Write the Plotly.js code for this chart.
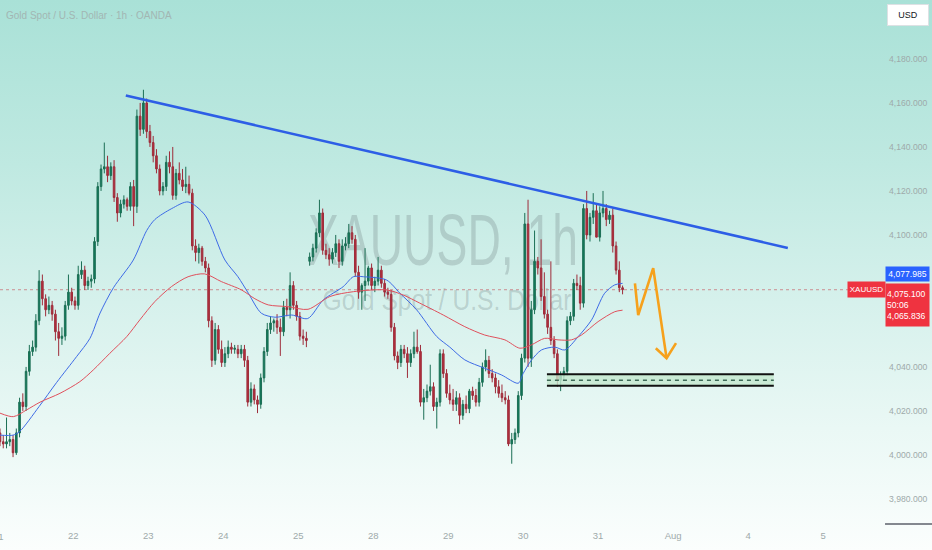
<!DOCTYPE html>
<html>
<head>
<meta charset="utf-8">
<script src="https://cdn.plot.ly/plotly-3.0.1.min.js"></script>
<style>
  body { margin: 0; }
  #wrap {
    position: relative; width: 932px; height: 550px; overflow: hidden;
    background: linear-gradient(to bottom, #a9e1d7 0%, #bfe9e1 30%, #d6f1ec 55%, #eaf8f5 78%, #fbfefd 100%);
  }
  .wm {
    position: absolute; left: 0; width: 886px; text-align: center;
    font-family: 'Liberation Sans', Arial, sans-serif;
    color: rgba(90, 105, 110, 0.24); white-space: nowrap;
  }
  #chart { position: absolute; left: 0; top: 0; width: 932px; height: 550px; }
</style>
</head>
<body>
<div id="wrap">
  <div class="wm" style="top:203px;font-size:73px;line-height:73px;transform:scaleX(0.634);">XAUUSD, 1h</div>
  <div class="wm" style="top:285px;font-size:30px;line-height:30px;left:4px;transform:scaleX(0.82);">Gold Spot / U.S. Dollar</div>
  <div id="chart"></div>
</div>
<script>
TESTER = document.getElementById('chart');

// hourly candles (23 per trading day)
var candleOpen = [
 4010,4006,4005,4006,4007,4001,4010,4024,4022,4038,4047,4049,4061,4079,4071,4066,4068,4064,4056,4053,4054,4068,4074,
 4070,4068,4082,4084,4077,4079,4080,4097,4122,4130,4131,4127,4131,4117,4110,4114,4116,4113,4122,4113,4154,4148,4160,
 4147,4142,4136,4130,4120,4122,4133,4131,4118,4128,4125,4122,4123,4119,4095,4092,4094,4088,4085,4061,4043,4057,4048,
 4042,4046,4049,4048,4048,4046,4048,4043,4024,4030,4025,4023,4035,4047,4057,4060,4061,4058,4056,4067,4066,4077,4068,
 4063,4054,4053,4088,4090,4094,4101,4110,4093,4091,4089,4092,4096,4088,4095,4096,4101,4098,4083,4074,4077,4079,4085,
 4077,4079,4084,4078,4074,4073,4058,4045,4042,4048,4046,4042,4046,4049,4047,4024,4026,4029,4031,4022,4024,4046,4037,
 4028,4025,4023,4026,4018,4023,4021,4029,4027,4024,4033,4040,4043,4037,4035,4031,4028,4026,4025,4005,4007,4010,4027,
 4044,4105,4044,4066,4088,4085,4072,4064,4058,4052,4046,4034,4036,4038,4061,4063,4078,4077,4069,4112,4100,4108,4111,
 4099,4110,4112,4107,4109,4095,4084,4076
];
var candleHigh = [
 4012,4009,4017,4010,4009,4012,4026,4028,4040,4050,4052,4064,4084,4082,4073,4072,4070,4066,4060,4058,4070,4082,4076,
 4072,4086,4088,4086,4081,4082,4099,4124,4132,4142,4136,4133,4134,4119,4116,4118,4117,4124,4125,4157,4160,4166,4162,
 4150,4145,4139,4132,4124,4136,4138,4140,4130,4133,4130,4131,4127,4121,4098,4096,4095,4090,4087,4063,4060,4059,4052,
 4049,4052,4051,4050,4050,4050,4050,4045,4033,4032,4027,4037,4049,4060,4063,4062,4064,4062,4070,4071,4083,4079,4070,
 4065,4057,4056,4092,4096,4103,4116,4112,4096,4094,4094,4100,4098,4098,4099,4105,4104,4100,4086,4078,4094,4086,4087,
 4081,4090,4086,4080,4076,4075,4060,4047,4050,4050,4049,4048,4056,4057,4050,4030,4032,4041,4033,4026,4048,4048,4039,
 4032,4030,4029,4028,4025,4027,4030,4031,4030,4035,4042,4048,4045,4039,4037,4034,4032,4029,4027,4010,4012,4029,4046,
 4110,4116,4070,4102,4090,4098,4083,4066,4088,4054,4048,4038,4040,4063,4065,4080,4082,4081,4114,4120,4110,4119,4114,
 4113,4120,4114,4111,4112,4097,4088,4077
];
var candleLow = [
 4004,4003,4003,4004,3999,4000,4008,4020,4020,4036,4045,4047,4059,4068,4063,4064,4061,4052,4045,4050,4052,4066,4068,
 4066,4066,4080,4075,4075,4076,4078,4095,4120,4128,4124,4125,4115,4106,4108,4112,4111,4111,4104,4110,4145,4146,4144,
 4140,4133,4128,4118,4118,4120,4128,4116,4116,4123,4120,4119,4118,4093,4088,4087,4086,4083,4058,4040,4041,4046,4040,
 4040,4044,4046,4046,4044,4044,4040,4022,4022,4023,4019,4021,4033,4045,4055,4056,4055,4045,4054,4063,4062,4066,4061,
 4052,4050,4049,4086,4088,4092,4099,4091,4089,4086,4087,4090,4085,4086,4093,4094,4096,4081,4071,4066,4070,4077,4075,
 4074,4077,4076,4072,4071,4056,4043,4039,4040,4044,4035,4040,4044,4046,4022,4016,4024,4027,4020,4012,4022,4035,4026,
 4023,4020,4020,4014,4016,4019,4019,4025,4022,4022,4031,4038,4035,4033,4028,4026,4024,4023,4004,3996,4005,4008,4025,
 4042,4040,4040,4064,4082,4070,4062,4055,4050,4044,4031,4029,4034,4036,4059,4061,4075,4066,4067,4098,4097,4105,4103,
 4097,4108,4104,4105,4092,4082,4074,4073
];
var candleClose = [
 4006,4005,4006,4007,4001,4010,4024,4022,4038,4047,4049,4061,4079,4071,4066,4068,4064,4056,4053,4054,4068,4074,4070,
 4068,4082,4084,4077,4079,4080,4097,4122,4130,4131,4127,4131,4117,4110,4114,4116,4113,4122,4113,4154,4148,4160,4147,
 4142,4136,4130,4120,4122,4133,4131,4118,4128,4125,4122,4123,4119,4095,4092,4094,4088,4085,4061,4043,4057,4048,4042,
 4046,4049,4048,4048.5,4046,4048,4043,4024,4030,4025,4023,4035,4047,4057,4060,4061,4058,4056,4067,4066,4077,4068,4063,
 4054,4053,4052,4090,4094,4101,4110,4093,4091,4089,4092,4096,4088,4095,4096,4101,4098,4083,4074,4077,4079,4085,4077,
 4079,4084,4078,4074,4073,4058,4045,4042,4048,4046,4042,4046,4049,4047,4024,4026,4029,4031,4022,4024,4046,4037,4028,
 4025,4023,4026,4018,4023,4021,4029,4027,4024,4033,4040,4043,4037,4035,4031,4028,4026,4025,4005,4007,4010,4027,4044,
 4105,4044,4066,4088,4085,4072,4064,4058,4052,4046,4034,4036,4038,4061,4063,4078,4077,4069,4112,4100,4108,4111,4099,
 4110,4112,4107,4109,4095,4084,4076,4075.1
];

// moving averages, sampled along the lines (x = candle index)
var blueX = [0, 4, 6, 12, 17.4, 23.5, 27.6, 30.7, 34.8, 40.9, 45, 47.5, 52.7, 57.7, 62.9, 69, 73, 76.2, 80.2, 84.4, 89.5, 94.4,
             99.2, 105.3, 108.4, 111.5, 118.6, 122.7, 127.8, 134, 138, 142.6, 148.7, 153.8, 159, 160.5, 163, 166.1, 170.2,
             173.3, 177.4, 181.5, 185.5, 188.6, 191];
var blueMA = [4009, 4009, 4010.6, 4022, 4033, 4044.7, 4053, 4064.5, 4076, 4088.6, 4102, 4107, 4112, 4115, 4109, 4088.6, 4081,
              4073.5, 4064.4, 4062.6, 4063.6, 4062, 4070.5, 4076.5, 4081, 4081, 4079.5, 4073.5, 4066, 4053.8, 4049, 4043.2,
              4039.4, 4036.4, 4032.6, 4037, 4043, 4047.7, 4049, 4047.7, 4053.8, 4061.4, 4073.5, 4077.3, 4078];
var redX = [0, 4.1, 8.2, 12.3, 18.4, 24.5, 28.6, 33.7, 38.9, 42.9, 47.5, 52.6, 57.7, 62.8, 67.9, 74.1, 78.2, 82.3, 88.4, 94.5,
            101.2, 108.4, 118.6, 123.7, 128.8, 136, 142.6, 148.7, 154.9, 159.5, 163, 167.1, 171.2, 175.3, 178.4, 183.5, 188.6, 191];
var redMA = [4019, 4017.4, 4020.5, 4024, 4028, 4033.3, 4038.6, 4046.2, 4053.8, 4061.4, 4069.7, 4076.5, 4081, 4082.3, 4078.8,
             4075, 4071, 4068.2, 4067.4, 4066.2, 4072, 4074.2, 4075, 4072.7, 4069, 4063.6, 4058.3, 4054.5, 4052.3, 4048.5,
             4050, 4053, 4052.3, 4052.3, 4054.5, 4060.6, 4065.1, 4065.8];

// drawings on the chart
var trendX = [38.6, 241.7];
var trendY = [4163.4, 4094.1];
var zoneX = [167.8, 237.4];
var zoneTop = [4036.7, 4036.7];
var zoneMid = [4033.9, 4033.9];
var zoneBot = [4031.4, 4031.4];
var arrowX = [194.8, 195.8, 200.4, 204.5, null, 201.2, 204.5, 207.4];
var arrowY = [4078.0, 4063.6, 4084.9, 4044.0, null, 4048.5, 4044.0, 4050.8];

// axis labels (4,060 and 4,080 are hidden under the price labels)
var dayTickVals = [22.5, 45.5, 68.5, 91.5, 114.5, 137.5, 160.5, 183.5, 206.5, 229.5, 252.5];
var dayTickText = ['22', '23', '24', '25', '28', '29', '30', '31', 'Aug', '4', '5'];
var priceTicks = [3980, 4000, 4020, 4040, 4100, 4120, 4140, 4160, 4180];
var lastPrice = 4075.1;

var idx = [];
for (let i = 0; i < candleClose.length; i++) { idx.push(i); }

var sans = "'Liberation Sans', Arial, sans-serif";

var candles = {
    type: 'candlestick', x: idx,
    open: candleOpen, high: candleHigh, low: candleLow, close: candleClose,
    increasing: {line: {color: '#1c6f55', width: 1}, fillcolor: '#0f7a5a'},
    decreasing: {line: {color: '#9e2c3a', width: 1}, fillcolor: '#b52f3e'},
    whiskerwidth: 0, hoverinfo: 'skip'
};
var blueLine = {x: blueX, y: blueMA, mode: 'lines', line: {color: '#3e6be6', width: 1, shape: 'spline', smoothing: 0.8}, hoverinfo: 'skip'};
var redLine = {x: redX, y: redMA, mode: 'lines', line: {color: '#e0505c', width: 1, shape: 'spline', smoothing: 0.8}, hoverinfo: 'skip'};
var trend = {x: trendX, y: trendY, mode: 'lines', line: {color: '#2d5ee6', width: 2.6}, hoverinfo: 'skip'};
var zoneB = {x: zoneX, y: zoneBot, mode: 'lines', line: {color: '#111111', width: 2}, hoverinfo: 'skip'};
var zoneT = {x: zoneX, y: zoneTop, mode: 'lines', fill: 'tonexty', fillcolor: 'rgba(196,232,206,0.8)',
             line: {color: '#111111', width: 2}, hoverinfo: 'skip'};
var zoneM = {x: zoneX, y: zoneMid, mode: 'lines', line: {color: '#3f6a58', width: 1.5, dash: '4px,4px'}, hoverinfo: 'skip'};
var arrow = {x: arrowX, y: arrowY, mode: 'lines', connectgaps: false,
             line: {color: '#f6a11c', width: 2.6}, hoverinfo: 'skip'};

var data = [candles, blueLine, redLine, trend, zoneB, zoneT, zoneM, arrow];

var gray = '#9eaaaa';
var layout = {
    width: 932, height: 550,
    margin: {l: 0, r: 49, t: 0, b: 26},
    paper_bgcolor: 'rgba(0,0,0,0)', plot_bgcolor: 'rgba(0,0,0,0)',
    showlegend: false,
    font: {family: sans},
    xaxis: {
        type: 'linear', range: [0, 270.9], rangeslider: {visible: false},
        tickvals: dayTickVals, ticktext: dayTickText, ticks: '', ticklabelstandoff: 4,
        showgrid: false, zeroline: false, showline: false,
        tickfont: {family: sans, size: 9.5, color: gray}
    },
    yaxis: {
        side: 'right', range: [3968.6, 4206.8],
        tickvals: priceTicks, tickformat: ',.3f', ticks: '', ticklabelstandoff: 5,
        showgrid: false, zeroline: false, showline: false,
        tickfont: {family: sans, size: 8.6, color: gray}
    },
    shapes: [
        {type: 'line', xref: 'paper', yref: 'y', x0: 0, x1: 0.962, y0: lastPrice, y1: lastPrice,
         line: {color: 'rgba(200,110,115,0.75)', width: 1, dash: 'dot'}, layer: 'below'},
        {type: 'line', xref: 'paper', yref: 'paper', x0: 1.0023, x1: 1.06, y0: 0, y1: 0,
         line: {color: '#5d606b', width: 1.5}}
    ],
    annotations: [
        {xref: 'paper', yref: 'paper', x: 0.005, y: 0.971, xanchor: 'left', yanchor: 'middle', showarrow: false,
         text: 'Gold Spot / U.S. Dollar · 1h · OANDA', font: {family: sans, size: 10, color: '#a2b6b3'}},
        {xref: 'paper', yref: 'paper', x: -0.0018, y: -0.0248, xanchor: 'center', yanchor: 'middle', showarrow: false,
         text: '21', font: {family: sans, size: 9.5, color: gray}},
        {xref: 'paper', yref: 'paper', x: 1.0283, y: 0.9714, xanchor: 'center', yanchor: 'middle', showarrow: false,
         text: 'USD', bgcolor: '#ffffff', bordercolor: '#dde1e4', borderwidth: 1, width: 38, height: 18,
         font: {family: sans, size: 9, color: '#131722'}},
        {xref: 'paper', yref: 'paper', x: 1.0272, y: 0.4765, xanchor: 'center', yanchor: 'middle', showarrow: false,
         text: '4,077.985', bgcolor: '#2962ff', width: 41, height: 12, borderpad: 1,
         font: {family: sans, size: 8.6, color: '#ffffff'}},
        {xref: 'paper', yref: 'paper', x: 0.9816, y: 0.4466, xanchor: 'center', yanchor: 'middle', showarrow: false,
         text: 'XAUUSD', bgcolor: '#ef3340', width: 35, height: 13, borderpad: 1,
         font: {family: sans, size: 8, color: '#ffffff'}},
        {xref: 'paper', yref: 'paper', x: 1.0272, y: 0.418, xanchor: 'center', yanchor: 'middle', showarrow: false,
         align: 'left', text: '4,075.100<br>50:06<br>4,065.836',
         bgcolor: '#ef3340', width: 41, height: 40, borderpad: 1,
         font: {family: sans, size: 8.6, color: '#ffffff'}}
    ]
};

Plotly.newPlot(TESTER, data, layout, {staticPlot: true});
</script>
</body>
</html>
